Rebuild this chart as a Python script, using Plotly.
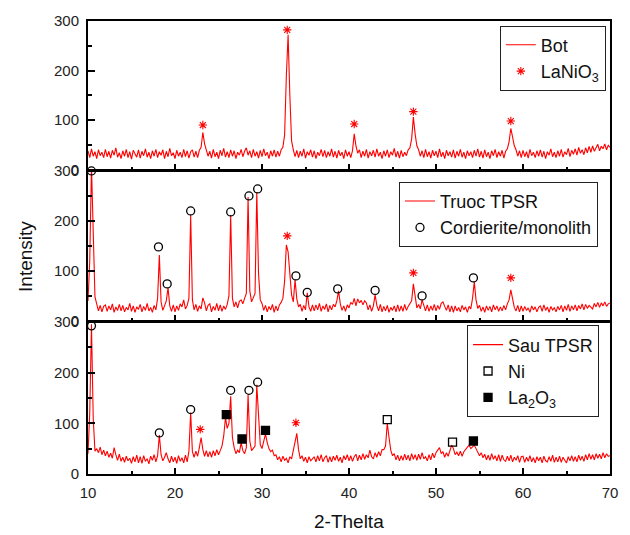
import numpy as np
import plotly.graph_objects as go

# 2-theta sampling grid (degrees), 0.2 step
two_theta = np.round(10 + 0.2 * np.arange(301), 1)

# Panel 1: "Bot"
bot = [
    38, 24, 42, 27, 36, 22, 40, 28, 35, 24,
    41, 26, 37, 23, 39, 29, 44, 25, 34, 22,
    38, 27, 41, 24, 36, 21, 39, 30, 25, 40,
    23, 37, 28, 42, 25, 35, 22, 38, 27, 41,
    24, 36, 29, 40, 22, 37, 26, 43, 28, 34,
    22, 39, 27, 35, 24, 41, 26, 38, 23, 36,
    40, 25, 37, 24, 39, 45, 75, 52, 40, 27,
    37, 23, 41, 26, 35, 22, 39, 28, 43, 25,
    36, 24, 40, 27, 38, 22, 35, 29, 41, 26,
    37, 44, 29, 38, 24, 41, 27, 36, 23, 39,
    26, 42, 28, 35, 22, 38, 27, 40, 25, 37,
    27, 40, 45, 70, 190, 272, 150, 58, 40, 26,
    39, 24, 37, 27, 42, 23, 36, 29, 40, 25,
    38, 22, 35, 28, 41, 26, 39, 24, 36, 27,
    42, 25, 37, 23, 39, 28, 35, 22, 40, 27,
    36, 24, 38, 72, 48, 33, 40, 24, 37, 27,
    41, 23, 36, 28, 39, 25, 42, 27, 35, 22,
    38, 27, 40, 24, 36, 29, 43, 25, 37, 23,
    39, 26, 35, 28, 40, 44, 62, 106, 72, 48,
    40, 27, 38, 24, 41, 26, 36, 23, 39, 28,
    37, 24, 42, 26, 35, 22, 39, 28, 36, 25,
    40, 23, 37, 27, 41, 25, 35, 22, 38, 28,
    36, 24, 39, 27, 42, 25, 37, 23, 40, 26,
    35, 22, 38, 28, 41, 24, 36, 27, 39, 23,
    37, 42, 56, 83, 66, 48, 40, 27, 38, 24,
    39, 26, 36, 23, 41, 28, 35, 24, 38, 27,
    40, 25, 37, 22, 36, 29, 42, 26, 35, 24,
    38, 27, 41, 25, 36, 30, 43, 26, 39, 31,
    42, 29, 45, 33, 40, 30, 44, 34, 47, 35,
    48, 37, 44, 51, 38, 47, 42, 52, 40, 49,
    45,
]

# Panel 2: "Truoc TPSR"
truoc = [
    40, 120, 310, 150, 48, 34, 20, 31, 18, 29,
    32, 19, 30, 22, 34, 17, 28, 21, 33, 20,
    31, 18, 27, 22, 35, 19, 30, 17, 28, 23,
    33, 18, 29, 21, 35, 20, 27, 17, 31, 22,
    45, 132, 38, 21, 33, 40, 66, 30, 19, 32,
    18, 30, 21, 34, 28, 42, 24, 31, 45, 212,
    42, 22, 33, 19, 30, 24, 46, 36, 20, 31,
    34, 18, 29, 21, 35, 20, 32, 19, 30, 23,
    33, 50, 212, 45, 28, 38, 26, 39, 42, 34,
    45, 55, 248, 60, 38, 47, 55, 258, 95, 42,
    35, 21, 31, 18, 29, 22, 33, 17, 30, 20,
    32, 37, 45, 80, 152, 138, 100, 52, 38, 82,
    44, 28, 33, 19, 31, 22, 56, 28, 19, 32,
    20, 32, 22, 35, 19, 30, 23, 34, 18, 31,
    22, 33, 28, 40, 60, 34, 21, 30, 19, 32,
    26, 37, 33, 45, 30, 44, 36, 41, 32, 40,
    36, 22, 32, 19, 30, 52, 31, 20, 33, 18,
    29, 20, 31, 17, 27, 21, 30, 18, 32, 19,
    30, 19, 33, 21, 29, 34, 40, 74, 47, 26,
    33, 24, 42, 28, 20, 32, 19, 30, 21, 33,
    20, 31, 23, 35, 38, 29, 21, 32, 18, 30,
    17, 30, 20, 27, 18, 31, 22, 28, 17, 29,
    24, 45, 78, 42, 25, 31, 19, 28, 17, 30,
    21, 29, 18, 32, 22, 30, 19, 28, 20, 31,
    22, 34, 42, 62, 40, 27, 20, 31, 18, 30,
    19, 29, 21, 26, 17, 30, 22, 28, 18, 27,
    30, 19, 32, 21, 28, 17, 29, 22, 26, 18,
    29, 22, 31, 18, 30, 21, 33, 19, 30, 22,
    32, 20, 31, 24, 34, 22, 33, 25, 31, 28,
    24, 35, 28, 37, 27, 36, 30, 38, 29, 34,
    36,
]

# Panel 3: "Sau TPSR"
sau = [
    40, 120, 295, 110, 45, 50, 42, 53, 38, 47,
    36, 45, 33, 41, 31, 52, 38, 27, 39, 25,
    33, 23, 35, 26, 31, 21, 34, 24, 37, 22,
    34, 21, 36, 25, 30, 20, 35, 27, 38, 24,
    36, 77, 38, 26, 33, 42, 30, 22, 35, 24,
    33, 21, 36, 25, 32, 22, 37, 24, 45, 121,
    44, 33, 45, 35, 52, 72, 48, 35, 46, 34,
    44, 33, 46, 36, 48, 38, 46, 55, 75, 111,
    90, 100, 153, 72, 52, 40, 47, 42, 62, 46,
    40, 52, 156, 65, 46, 50, 55, 176, 110, 58,
    50, 62, 79, 62, 50, 44, 47, 36, 38, 28,
    34, 24, 35, 27, 31, 22, 34, 30, 45, 60,
    80, 48, 30, 36, 25, 33, 22, 34, 26, 30,
    34, 24, 36, 26, 38, 24, 32, 36, 23, 34,
    24, 35, 27, 37, 25, 33, 22, 36, 28, 38,
    26, 36, 25, 34, 39, 26, 37, 28, 40, 29,
    38, 32, 47, 34, 30, 42, 33, 44, 36, 48,
    48, 55, 100, 72, 47, 36, 40, 28, 37, 26,
    36, 27, 39, 28, 37, 26, 40, 29, 38, 27,
    39, 29, 42, 30, 34, 26, 38, 28, 41, 32,
    42, 47, 52, 40, 44, 33, 42, 35, 45, 57,
    50, 38, 43, 36, 45, 35, 44, 48, 52, 57,
    50, 54, 57, 50, 44, 36, 42, 32, 39, 28,
    37, 27, 40, 29, 36, 26, 38, 25, 37, 28,
    25, 35, 26, 37, 24, 33, 27, 36, 23, 34,
    35, 23, 33, 25, 36, 24, 32, 22, 34, 26,
    33, 22, 35, 26, 24, 34, 25, 37, 23, 33,
    24, 35, 23, 33, 27, 22, 34, 26, 36, 25,
    34, 24, 37, 27, 35, 25, 38, 28, 40, 29,
    38, 28, 40, 31, 39, 30, 42, 32, 40, 35,
    36,
]

# Phase markers (2-theta, intensity)
top_lanio3_x = [23.2, 32.9, 40.6, 47.4, 58.6]
top_lanio3_y = [90, 282, 92, 117, 98]

mid_cord_x = [10.4, 18.1, 19.1, 21.8, 26.4, 28.5, 29.5, 33.9, 35.2, 38.7, 43.0, 48.4, 54.3]
mid_cord_y = [300, 148, 74, 220, 218, 250, 264, 90, 57, 64, 61, 50, 86]
mid_lanio3_x = [32.9, 47.4, 58.6]
mid_lanio3_y = [170, 96, 86]

bot_cord_x = [10.4, 18.2, 21.8, 26.4, 28.5, 29.5]
bot_cord_y = [292, 81, 127, 165, 165, 181]
bot_lanio3_x = [22.9, 33.9]
bot_lanio3_y = [88, 101]
bot_ni_x = [44.4, 51.9]
bot_ni_y = [107, 63]
bot_la2o3_x = [25.9, 27.7, 30.4, 54.3]
bot_la2o3_y = [117, 69, 86, 65]

y_ticks = [0, 100, 200, 300]
x_ticks = [10, 20, 30, 40, 50, 60, 70]

FONT = "Arial, 'Liberation Sans', sans-serif"
RED = "#ff0000"

fig = go.Figure()

def line(y, name, xa, ya, legend):
    fig.add_trace(go.Scatter(x=two_theta, y=y, mode="lines", name=name,
                             line=dict(color=RED, width=1.1), xaxis=xa, yaxis=ya,
                             legend=legend, showlegend=True))

def marks(x, y, name, symbol, color, size, xa, ya, legend, show, lw=1.3):
    fig.add_trace(go.Scatter(x=x, y=y, mode="markers", name=name,
                             marker=dict(symbol=symbol, size=size, color=color,
                                         line=dict(color=color, width=lw)),
                             xaxis=xa, yaxis=ya, legend=legend, showlegend=show,
                             cliponaxis=False))

# top panel
line(bot, "Bot", "x3", "y3", "legend")
marks(top_lanio3_x, top_lanio3_y, "LaNiO<sub>3</sub>", "asterisk-open", RED, 7, "x3", "y3", "legend", True, 1.1)
# middle panel
line(truoc, "Truoc TPSR", "x2", "y2", "legend2")
marks(mid_cord_x, mid_cord_y, "Cordierite/monolith", "circle-open", "black", 8, "x2", "y2", "legend2", True)
marks(mid_lanio3_x, mid_lanio3_y, "LaNiO3", "asterisk-open", RED, 7, "x2", "y2", "legend2", False, 1.1)
# bottom panel
line(sau, "Sau TPSR", "x", "y", "legend3")
marks(bot_ni_x, bot_ni_y, "Ni", "square-open", "black", 8, "x", "y", "legend3", True)
marks(bot_la2o3_x, bot_la2o3_y, "La<sub>2</sub>O<sub>3</sub>", "square", "black", 8, "x", "y", "legend3", True)
marks(bot_cord_x, bot_cord_y, "Cordierite", "circle-open", "black", 8, "x", "y", "legend3", False)
marks(bot_lanio3_x, bot_lanio3_y, "LaNiO3", "asterisk-open", RED, 7, "x", "y", "legend3", False, 1.1)

tickfont = dict(family=FONT, size=15, color="#222")

def xaxis(domain_anchor, labels):
    return dict(range=[10, 70], domain=[0, 1], anchor=domain_anchor,
                tickvals=x_ticks, showticklabels=labels, ticks="inside", ticklen=6,
                tickwidth=1.5, tickcolor="black",
                minor=dict(dtick=5, tick0=5, ticks="inside", ticklen=3, tickwidth=1.5, tickcolor="black"),
                showline=True, linecolor="black", linewidth=2, mirror=True,
                showgrid=False, zeroline=False, tickfont=tickfont, ticklabelstandoff=4)

def yaxis(domain, anchor):
    return dict(range=[0, 300], domain=domain, anchor=anchor,
                tickvals=y_ticks, ticks="inside", ticklen=7, tickwidth=1.5, tickcolor="black",
                minor=dict(dtick=50, tick0=0, ticks="inside", ticklen=4, tickwidth=1.5, tickcolor="black"),
                showline=True, linecolor="black", linewidth=2, mirror=True,
                showgrid=False, zeroline=False, tickfont=tickfont, ticklabelstandoff=4)

legfont = dict(family=FONT, size=18, color="#111")
legbase = dict(bgcolor="white", bordercolor="#222", borderwidth=1, font=legfont,
               xanchor="right", yanchor="top", itemsizing="trace", tracegroupgap=0)

fig.update_layout(
    width=630, height=535,
    margin=dict(l=88, r=18, t=12, b=61),
    paper_bgcolor="white", plot_bgcolor="white",
    xaxis=xaxis("y", True),
    yaxis=yaxis([0, 0.336], "x"),
    xaxis2=xaxis("y2", False),
    yaxis2=yaxis([0.338, 0.669], "x2"),
    xaxis3=xaxis("y3", False),
    yaxis3=yaxis([0.672, 1.0], "x3"),
    legend=dict(legbase, x=0.992, y=0.99),
    legend2=dict(legbase, x=0.977, y=0.645),
    legend3=dict(legbase, x=0.979, y=0.328),
    showlegend=True,
    annotations=[
        dict(text="Intensity", xref="paper", yref="paper", x=-0.12, y=0.48,
             textangle=-90, showarrow=False, xanchor="center", yanchor="middle",
             font=dict(family=FONT, size=19, color="#111")),
        dict(text="2-Thelta", xref="paper", yref="paper", x=0.5, y=-0.104,
             showarrow=False, xanchor="center", yanchor="middle",
             font=dict(family=FONT, size=19, color="#111")),
    ],
)

fig.write_html("out.html")
